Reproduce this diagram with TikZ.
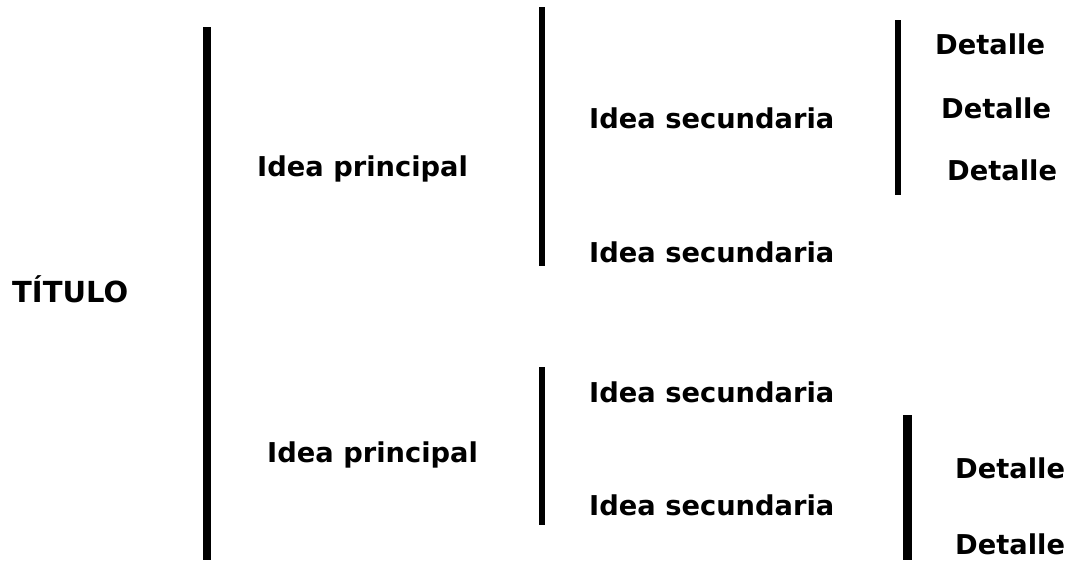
\documentclass[tikz,border=0pt]{standalone}
\usepackage{fontspec}
\setmainfont{DejaVu Sans}
\begin{document}
\begin{tikzpicture}[x=1pt,y=-1pt,
  lbl/.style={inner sep=0pt,anchor=base west,font=\bfseries\fontsize{27.3}{30}\selectfont},
  ttl/.style={inner sep=0pt,anchor=base west,font=\bfseries\fontsize{29}{32}\selectfont},
  bar/.style={line width=#1,line cap=butt},
  bar/.default=6.5pt]
\useasboundingbox[fill=white] (0,0) rectangle (1068,560);
% titles and labels
\node[ttl] (t) at (12,302) {TÍTULO};
\node[lbl] (p1) at (257,176) {Idea principal};
\node[lbl] (p2) at (267,462) {Idea principal};
\node[lbl] (s1) at (589,128) {Idea secundaria};
\node[lbl] (s2) at (589,262) {Idea secundaria};
\node[lbl] (s3) at (589,402) {Idea secundaria};
\node[lbl] (s4) at (589,515) {Idea secundaria};
\node[lbl] (d1) at (935,54) {Detalle};
\node[lbl] (d2) at (941,118) {Detalle};
\node[lbl] (d3) at (947,180) {Detalle};
\node[lbl] (d4) at (955,478) {Detalle};
\node[lbl] (d5) at (955,554) {Detalle};
% bracket bars
\coordinate (m1) at (207,27);  \coordinate (m2) at (207,560);
\coordinate (a1) at (542,7);   \coordinate (a2) at (542,266);
\coordinate (b1) at (898,20);  \coordinate (b2) at (898,195);
\coordinate (c1) at (542,367); \coordinate (c2) at (542,525);
\coordinate (e1) at (907,415); \coordinate (e2) at (907,560);
\draw[bar=8pt] (m1) -- (m2);
\draw[bar] (a1) -- (a2);
\draw[bar] (b1) -- (b2);
\draw[bar] (c1) -- (c2);
\draw[bar=9pt] (e1) -- (e2);
\end{tikzpicture}
\end{document}
